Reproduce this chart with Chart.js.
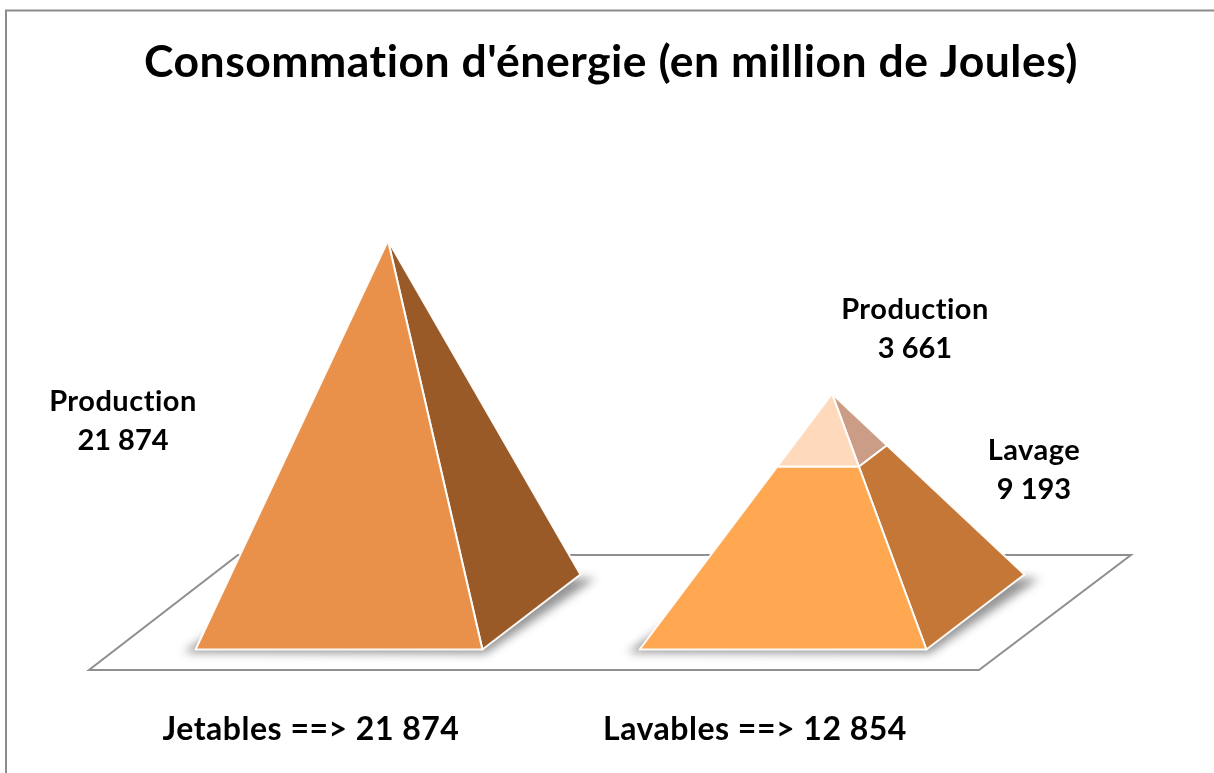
<!DOCTYPE html>
<html>
<head>
<meta charset="utf-8">
<style>
  html, body { margin: 0; background: #fff; overflow: hidden; }
  canvas { display: block; }
</style>
<script src="https://cdn.jsdelivr.net/npm/chart.js@4"></script>
</head>
<body>
<canvas id="chart" width="1214" height="773"></canvas>
<script>
const titleText = "Consommation d'énergie (en million de Joules)";
const categories = ['Jetables', 'Lavables'];
const lavageValues = [0, 9193];
const productionValues = [21874, 3661];
const valueMax = 25000;

const lavageFront = '#FFA851';
const lavageSide = '#C57737';
const productionFront = ['#E9914A', '#FFD9BC'];
const productionSide = ['#995A28', '#CC9D86'];

const fontFamily = 'Lato, "Open Sans", sans-serif';

const formatValue = (v) => String(v).replace(/\B(?=(\d{3})+$)/g, ' ');
const totalFor = (i) => lavageValues[i] + productionValues[i];

// label offsets from the top middle of a segment
const labelOffsets = {
    Production: [[-265, 181], [83, -65]],
    Lavage: [[0, 0], [202, 14.5]]
};

const depthX = 49;
const depthY = 37.5;

const mix = (a, b, t) => [a[0] + (b[0] - a[0]) * t, a[1] + (b[1] - a[1]) * t];

const fillPoly = (ctx, pts, color) => {
    ctx.beginPath();
    pts.forEach((p, i) => (i ? ctx.lineTo(p[0], p[1]) : ctx.moveTo(p[0], p[1])));
    ctx.closePath();
    ctx.fillStyle = color;
    ctx.fill();
};

const sceneryPlugin = {
    id: 'scenery',
    beforeDraw(chart) {
        const ctx = chart.ctx;
        // a little tracking, also stops Lato's "ti" ligature
        ctx.letterSpacing = '0.5px';
        ctx.save();
        ctx.fillStyle = '#fff';
        ctx.fillRect(0, 0, chart.width, chart.height);
        // only the top and left of the frame are inside the picture
        ctx.strokeStyle = '#8c8c8c';
        ctx.lineWidth = 2;
        ctx.beginPath();
        ctx.moveTo(6, chart.height);
        ctx.lineTo(6, 10.5);
        ctx.lineTo(chart.width, 10.5);
        ctx.stroke();
        ctx.restore();
    }
};

const pyramidPlugin = {
    id: 'pyramids',
    beforeDatasetsDraw(chart) {
        const ctx = chart.ctx;
        const area = chart.chartArea;
        const yScale = chart.scales.y;
        const zeroY = yScale.getPixelForValue(0);

        // floor
        ctx.save();
        ctx.strokeStyle = '#8f8f8f';
        ctx.lineWidth = 2;
        ctx.lineJoin = 'miter';
        ctx.beginPath();
        ctx.moveTo(area.left - 77, zeroY + 58);
        ctx.lineTo(area.right - 75, zeroY + 58);
        ctx.lineTo(area.right + 77, zeroY - 57);
        ctx.lineTo(area.left + 72, zeroY - 57);
        ctx.closePath();
        ctx.stroke();
        ctx.restore();

        categories.forEach((cat, i) => {
            const bottom = chart.getDatasetMeta(0).data[i];
            const cx = bottom.x;
            const half = bottom.width / 2;
            const apex = [cx, yScale.getPixelForValue(totalFor(i))];
            const fl = [cx - half - depthX, zeroY + depthY];
            const fr = [cx + half - depthX, zeroY + depthY];
            const br = [cx + half + depthX, zeroY - depthY];
            const bl = [cx - half + depthX, zeroY - depthY];

            // soft ground shadow
            ctx.save();
            ctx.filter = 'blur(5px)';
            fillPoly(ctx, [[fl[0] - 12, fl[1] + 3], [fr[0] + 3, fr[1] + 4], [br[0] + 15, br[1] + 4], [bl[0], bl[1]]], 'rgba(0,0,0,0.42)');
            ctx.restore();

            chart.data.datasets.forEach((ds, d) => {
                if (!ds.data[i]) return;
                const el = chart.getDatasetMeta(d).data[i];
                const t1 = (zeroY - el.base) / (zeroY - apex[1]);
                const t2 = (zeroY - el.y) / (zeroY - apex[1]);
                const front = [mix(fl, apex, t1), mix(fr, apex, t1), mix(fr, apex, t2), mix(fl, apex, t2)];
                const side = [mix(fr, apex, t1), mix(br, apex, t1), mix(br, apex, t2), mix(fr, apex, t2)];
                ctx.save();
                ctx.strokeStyle = 'rgba(255,255,255,0.95)';
                ctx.lineWidth = 2;
                ctx.lineJoin = 'round';
                fillPoly(ctx, side, ds.sideColor[i]);
                ctx.stroke();
                fillPoly(ctx, front, ds.backgroundColor[i]);
                ctx.stroke();
                ctx.restore();
            });
        });

        // value labels
        ctx.save();
        ctx.fillStyle = '#000';
        ctx.font = 'bold 29px ' + fontFamily;
        ctx.textAlign = 'center';
        ctx.textBaseline = 'middle';
        chart.data.datasets.forEach((ds, d) => {
            ds.data.forEach((v, i) => {
                if (!v) return;
                const el = chart.getDatasetMeta(d).data[i];
                const off = labelOffsets[ds.label][i];
                ctx.letterSpacing = '0.5px';
                ctx.fillText(ds.label, el.x + off[0], el.y + off[1] - 19.5);
                ctx.letterSpacing = '0px';
                ctx.fillText(formatValue(v), el.x + off[0], el.y + off[1] + 19.5);
            });
        });
        ctx.restore();

        return false;
    }
};

// invisible axes that only hold the side margins, so the title keeps its full width
const spacerAxis = (position, width) => ({
    position,
    stacked: true,
    min: 0,
    max: valueMax,
    grid: { display: false, drawTicks: false },
    border: { display: false },
    ticks: { display: false },
    afterFit: (scale) => { scale.width = width; }
});

new Chart(document.getElementById('chart'), {
    type: 'bar',
    data: {
        labels: categories,
        datasets: [
            { label: 'Lavage', data: lavageValues, backgroundColor: [lavageFront, lavageFront], sideColor: [lavageSide, lavageSide] },
            { label: 'Production', data: productionValues, backgroundColor: productionFront, sideColor: productionSide }
        ]
    },
    options: {
        responsive: false,
        animation: false,
        events: [],
        barPercentage: 0.646,
        categoryPercentage: 1,
        layout: { padding: { left: 8, right: 0, top: 0, bottom: 25 } },
        plugins: {
            legend: { display: false },
            tooltip: { enabled: false },
            title: {
                display: true,
                text: titleText,
                color: '#000',
                font: { family: fontFamily, size: 44.5, weight: 'bold', lineHeight: 1.2 },
                padding: { top: 36, bottom: 98 }
            }
        },
        scales: {
            x: {
                stacked: true,
                grid: { display: false, drawTicks: false },
                border: { display: false },
                // chart.js counts tick padding twice in the axis height
                afterFit: (scale) => { scale.height = 136; },
                ticks: {
                    color: '#000',
                    font: { family: fontFamily, size: 32, weight: 'bold' },
                    padding: 98,
                    labelOffset: -77,
                    maxRotation: 0,
                    autoSkip: false,
                    callback: (value, index) => categories[index] + ' ==> ' + formatValue(totalFor(index))
                }
            },
            y: spacerAxis('left', 158),
            yRight: spacerAxis('right', 160)
        }
    },
    plugins: [sceneryPlugin, pyramidPlugin]
});
</script>
</body>
</html>
